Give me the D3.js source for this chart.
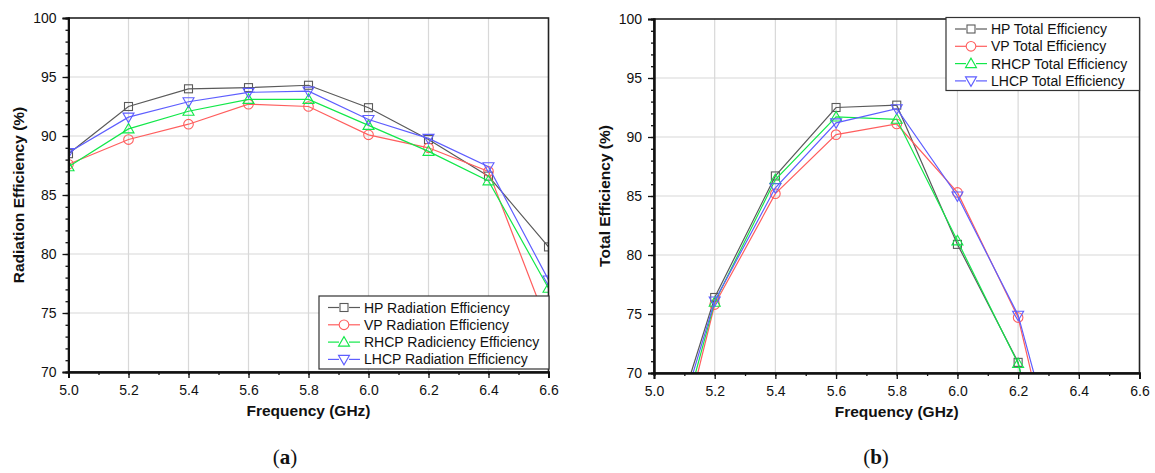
<!DOCTYPE html>
<html>
<head>
<meta charset="utf-8">
<script src="https://cdn.jsdelivr.net/npm/d3@7"></script>
<style>
  body { margin: 0; background: #fff; }
  svg text { font-family: "Liberation Sans", Arial, sans-serif; fill: #111; }
</style>
</head>
<body>
<div id="chart"></div>
<script>
// frequency points (GHz)
var freq = [5.0, 5.2, 5.4, 5.6, 5.8, 6.0, 6.2, 6.4, 6.6];

// (a) radiation efficiency (%)
var radHP   = [88.5, 92.5, 94.0, 94.1, 94.3, 92.4, 89.7, 86.6, 80.6];
var radVP   = [87.6, 89.7, 91.0, 92.7, 92.5, 90.1, 89.0, 87.0, 73.8];
var radRHCP = [87.4, 90.6, 92.1, 93.1, 93.1, 90.9, 88.7, 86.2, 77.1];
var radLHCP = [88.6, 91.6, 92.9, 93.7, 93.8, 91.4, 89.8, 87.4, 77.8];

// (b) total efficiency (%)
var totHP   = [60.0, 76.4, 86.7, 92.5, 92.7, 80.9, 70.9, 50.0, null];
var totVP   = [55.0, 75.8, 85.2, 90.2, 91.1, 85.3, 74.7, 53.0, null];
var totRHCP = [57.0, 76.0, 86.4, 91.7, 91.5, 81.2, 70.8, 50.0, null];
var totLHCP = [59.0, 76.1, 85.7, 91.2, 92.4, 85.0, 74.9, 56.0, null];

var xTicks = [5.0, 5.2, 5.4, 5.6, 5.8, 6.0, 6.2, 6.4, 6.6];
var yTicks = [70, 75, 80, 85, 90, 95, 100];

var radNames = ["HP Radiation Efficiency", "VP Radiation Efficiency", "RHCP Radiciency Efficiency", "LHCP Radiation Efficiency"];
var totNames = ["HP Total Efficiency", "VP Total Efficiency", "RHCP Total Efficiency", "LHCP Total Efficiency"];

var colors = ["#5a5a5a", "#ff5e5e", "#12e84a", "#5e5eff"];
var symbols = ["square", "circle", "up", "down"];

var svg = d3.select("#chart").append("svg")
    .attr("width", 1155)
    .attr("height", 473);

function marker(g, type, x, y, color) {
    if (type == "square") {
        g.append("rect").attr("x", x - 4).attr("y", y - 4).attr("width", 8).attr("height", 8)
            .attr("fill", "none").attr("stroke", color).attr("stroke-width", 1.1);
    } else if (type == "circle") {
        g.append("circle").attr("cx", x).attr("cy", y).attr("r", 4.8)
            .attr("fill", "none").attr("stroke", color).attr("stroke-width", 1.1);
    } else {
        var s = type == "up" ? -1 : 1;
        var pts = [[x, y + s * 5.5], [x - 5.5, y - s * 4], [x + 5.5, y - s * 4]];
        g.append("path").attr("d", "M" + pts.join("L") + "Z")
            .attr("fill", "none").attr("stroke", color).attr("stroke-width", 1.1);
    }
}

function drawPanel(p) {
    var x = d3.scaleLinear().domain([5.0, 6.6]).range([p.left, p.right]);
    var y = d3.scaleLinear().domain([70, 100]).range([p.bottom, p.top]);
    var g = svg.append("g");

    // grid
    g.append("g").selectAll("line").data(xTicks.slice(1, -1)).enter().append("line")
        .attr("x1", d => x(d)).attr("x2", d => x(d)).attr("y1", p.top).attr("y2", p.bottom)
        .attr("stroke", "#d8d8d8").attr("stroke-width", 1.2);
    g.append("g").selectAll("line").data(yTicks.slice(1, -1)).enter().append("line")
        .attr("y1", d => y(d)).attr("y2", d => y(d)).attr("x1", p.left).attr("x2", p.right)
        .attr("stroke", "#d8d8d8").attr("stroke-width", 1.2);

    // clip
    var clipId = "clip" + p.id;
    g.append("clipPath").attr("id", clipId).append("rect")
        .attr("x", p.left).attr("y", p.top).attr("width", p.right - p.left).attr("height", p.bottom - p.top);
    var plot = g.append("g").attr("clip-path", "url(#" + clipId + ")");

    var line = d3.line().defined(d => d[1] != null).x(d => x(d[0])).y(d => y(d[1]));
    p.series.forEach(function (vals, i) {
        var pts = freq.map((f, k) => [f, vals[k]]);
        plot.append("path").datum(pts).attr("d", line)
            .attr("fill", "none").attr("stroke", colors[i]).attr("stroke-width", 1.2);
        pts.forEach(function (d) {
            if (d[1] != null) marker(plot, symbols[i], x(d[0]), y(d[1]), colors[i]);
        });
    });

    // frame
    g.append("rect").attr("x", p.left).attr("y", p.top).attr("width", p.right - p.left).attr("height", p.bottom - p.top)
        .attr("fill", "none").attr("stroke", "#222").attr("stroke-width", 1.6);

    // axes
    var yMinor = g.append("g").attr("transform", "translate(" + p.left + ",0)")
        .call(d3.axisLeft(y).tickValues(d3.range(70, 101, 1)).tickSize(3).tickFormat(""));
    var yAxis = g.append("g").attr("transform", "translate(" + p.left + ",0)")
        .call(d3.axisLeft(y).tickValues(yTicks).tickSize(6).tickPadding(6));
    var xMinor = g.append("g").attr("transform", "translate(0," + p.bottom + ")")
        .call(d3.axisBottom(x).tickValues(d3.range(50, 67, 1).map(v => v / 10)).tickSize(3).tickFormat(""));
    var xAxis = g.append("g").attr("transform", "translate(0," + p.bottom + ")")
        .call(d3.axisBottom(x).tickValues(xTicks).tickSize(6).tickPadding(7).tickFormat(d3.format(".1f")));
    [yMinor, yAxis, xMinor, xAxis].forEach(function (a) {
        a.select(".domain").attr("stroke", "#111").attr("stroke-width", 2);
        a.selectAll(".tick line").attr("stroke", "#111").attr("stroke-width", 1.3);
        a.selectAll("text").style("font-size", "14px").attr("fill", "#111");
    });

    // titles
    g.append("text")
        .attr("transform", "translate(" + p.ytitleX + "," + ((p.top + p.bottom) / 2) + ") rotate(-90)")
        .attr("text-anchor", "middle").attr("dy", "0.35em")
        .style("font-size", "15.5px").style("font-weight", "bold")
        .text(p.ytitle);
    g.append("text")
        .attr("x", (p.left + p.right) / 2).attr("y", p.bottom + 44)
        .attr("text-anchor", "middle")
        .style("font-size", "15.5px").style("font-weight", "bold")
        .text("Frequency (GHz)");

    // legend
    var lg = g.append("g");
    lg.append("rect").attr("x", p.legX).attr("y", p.legY).attr("width", p.legW).attr("height", 73)
        .attr("fill", "#fff").attr("stroke", "#333").attr("stroke-width", 1.2);
    p.names.forEach(function (name, i) {
        var cy = p.legY + 11.5 + i * 17.3;
        lg.append("line").attr("x1", p.legX + 9).attr("x2", p.legX + 41).attr("y1", cy).attr("y2", cy)
            .attr("stroke", colors[i]).attr("stroke-width", 1.2);
        lg.append("rect").attr("x", p.legX + 20).attr("y", cy - 6).attr("width", 10).attr("height", 12).attr("fill", "#fff");
        marker(lg, symbols[i], p.legX + 25, cy, colors[i]);
        lg.append("text").attr("x", p.legX + 45).attr("y", cy).attr("dy", "0.36em")
            .style("font-size", "14px").attr("fill", "#111").text(name);
    });

    // caption
    var cap = svg.append("text").attr("x", p.capX).attr("y", 464).attr("text-anchor", "middle")
        .style("font-family", "'Liberation Serif', 'DejaVu Serif', serif").style("font-size", "21px");
    cap.append("tspan").text("(");
    cap.append("tspan").style("font-weight", "bold").text(p.cap);
    cap.append("tspan").text(")");
}

drawPanel({
    id: "a", left: 68.5, right: 548.5, top: 18, bottom: 372,
    series: [radHP, radVP, radRHCP, radLHCP], names: radNames,
    ytitle: "Radiation Efficiency (%)", ytitleX: 19,
    legX: 319, legY: 296, legW: 230, cap: "a", capX: 285
});
drawPanel({
    id: "b", left: 654, right: 1139.5, top: 19, bottom: 373,
    series: [totHP, totVP, totRHCP, totLHCP], names: totNames,
    ytitle: "Total Efficiency (%)", ytitleX: 605,
    legX: 946, legY: 17.5, legW: 193.5, cap: "b", capX: 876
});
</script>
</body>
</html>
